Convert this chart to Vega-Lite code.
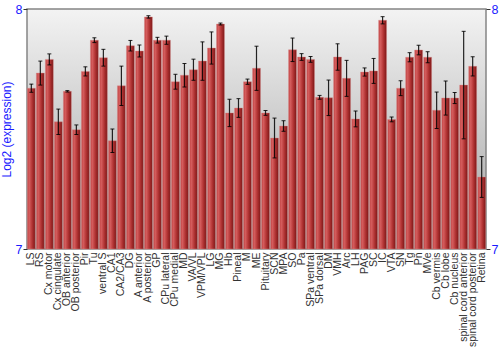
{
  "$schema": "https://vega.github.io/schema/vega-lite/v6.json",
  "autosize": "none",
  "padding": {"left": 27, "top": 9, "right": 14, "bottom": 101},
  "width": 459,
  "height": 240,
  "background": "white",
  "config": {
    "font": "Liberation Sans",
    "view": {
      "fill": {"gradient": "linear", "x1": 0, "y1": 0, "x2": 0, "y2": 1, "stops": [{"offset": 0, "color": "#f3f3f3"}, {"offset": 1, "color": "#a2a2a2"}]},
      "stroke": "#858585",
      "strokeWidth": 1.5
    }
  },
  "data": {
    "values": [
      {"region": "LS", "value": 7.67, "err": 0.017},
      {"region": "RS", "value": 7.733, "err": 0.05},
      {"region": "Cx motor", "value": 7.79, "err": 0.023},
      {"region": "Cx cingulate", "value": 7.53, "err": 0.053},
      {"region": "OB anterior", "value": 7.657, "err": 0.003},
      {"region": "OB posterior", "value": 7.497, "err": 0.02},
      {"region": "Pir", "value": 7.74, "err": 0.019},
      {"region": "Tu", "value": 7.87, "err": 0.01},
      {"region": "ventral S", "value": 7.797, "err": 0.035},
      {"region": "CA1", "value": 7.451, "err": 0.049},
      {"region": "CA2/CA3", "value": 7.68, "err": 0.082},
      {"region": "DG", "value": 7.847, "err": 0.022},
      {"region": "A anterior", "value": 7.825, "err": 0.025},
      {"region": "A posterior", "value": 7.967, "err": 0.005},
      {"region": "GP", "value": 7.87, "err": 0.012},
      {"region": "CPu lateral", "value": 7.87, "err": 0.017},
      {"region": "CPu medial", "value": 7.697, "err": 0.031},
      {"region": "MD", "value": 7.724, "err": 0.049},
      {"region": "VA/VL", "value": 7.747, "err": 0.044},
      {"region": "VPM/VPL", "value": 7.783, "err": 0.08},
      {"region": "LG", "value": 7.8375, "err": 0.067},
      {"region": "MG", "value": 7.9375, "err": 0.004},
      {"region": "Hb", "value": 7.567, "err": 0.057},
      {"region": "Pineal", "value": 7.5875, "err": 0.039},
      {"region": "M", "value": 7.697, "err": 0.011},
      {"region": "ME", "value": 7.753, "err": 0.092},
      {"region": "Pituitary", "value": 7.567, "err": 0.01},
      {"region": "SCN", "value": 7.4625, "err": 0.083},
      {"region": "MPA", "value": 7.5125, "err": 0.022},
      {"region": "SO", "value": 7.83, "err": 0.049},
      {"region": "Pa", "value": 7.8, "err": 0.014},
      {"region": "SPa ventral", "value": 7.79, "err": 0.012},
      {"region": "SPa dorsal", "value": 7.632, "err": 0.008},
      {"region": "DM", "value": 7.63, "err": 0.074},
      {"region": "VMH", "value": 7.8, "err": 0.055},
      {"region": "Arc", "value": 7.711, "err": 0.075},
      {"region": "LH", "value": 7.542, "err": 0.033},
      {"region": "PAG", "value": 7.7375, "err": 0.017},
      {"region": "SC", "value": 7.742, "err": 0.052},
      {"region": "IC", "value": 7.953, "err": 0.015},
      {"region": "VTA", "value": 7.54, "err": 0.01},
      {"region": "SN", "value": 7.67, "err": 0.031},
      {"region": "Tg", "value": 7.799, "err": 0.019},
      {"region": "Pn", "value": 7.829, "err": 0.02},
      {"region": "MVe", "value": 7.799, "err": 0.023},
      {"region": "Cb vermis", "value": 7.578, "err": 0.076},
      {"region": "Cb lobe", "value": 7.629, "err": 0.071},
      {"region": "Cb nucleus", "value": 7.629, "err": 0.023},
      {"region": "spinal cord anterior", "value": 7.683, "err": 0.224},
      {"region": "spinal cord posterior", "value": 7.761, "err": 0.04},
      {"region": "Retina", "value": 7.3, "err": 0.085}
    ]
  },
  "encoding": {
    "x": {
      "field": "region", "type": "nominal", "sort": null,
      "scale": {"paddingInner": 0.12, "paddingOuter": 0.04},
      "axis": {"title": null, "labelAngle": -90, "labelFontSize": 10.5, "labelColor": "#333333", "labelOverlap": false, "ticks": false, "domain": false, "labelPadding": 3, "labelBound": false, "labelFlush": false}
    }
  },
  "layer": [
    {
      "mark": {"type": "bar", "color": {"gradient": "linear", "x1": 0, "y1": 0, "x2": 1, "y2": 0, "stops": [{"offset": 0, "color": "#c24444"}, {"offset": 0.25, "color": "#d45c5c"}, {"offset": 0.6, "color": "#b23434"}, {"offset": 1, "color": "#7c1616"}]}, "stroke": "#d88a8a", "strokeWidth": 0.4},
      "encoding": {
        "y": {
          "field": "value", "type": "quantitative",
          "scale": {"domain": [7, 8], "zero": false, "nice": false},
          "axis": {"orient": "left", "values": [7, 8], "format": "d", "title": "Log2 (expression)", "titleColor": "#1a1aff", "titleFontSize": 12, "titleFontWeight": "normal", "titlePadding": 2, "labelColor": "#1a1aff", "labelFontSize": 12.5, "labelPadding": 1, "tickSize": 4, "tickColor": "#333333", "domain": false, "grid": false}
        },
        "y2": {"datum": 7}
      }
    },
    {
      "mark": {"type": "errorbar", "ticks": {"size": 4, "color": "black"}, "rule": {"color": "black", "strokeWidth": 1.2}, "opacity": 0.85},
      "encoding": {
        "y": {
          "field": "value", "type": "quantitative",
          "scale": {"domain": [7, 8], "zero": false, "nice": false},
          "axis": {"orient": "right", "values": [7, 8], "format": "d", "title": null, "labelColor": "#1a1aff", "labelFontSize": 12.5, "labelPadding": 1, "tickSize": 4, "tickColor": "#333333", "domain": false, "grid": false}
        },
        "yError": {"field": "err"}
      }
    }
  ],
  "resolve": {"axis": {"y": "independent"}}
}
